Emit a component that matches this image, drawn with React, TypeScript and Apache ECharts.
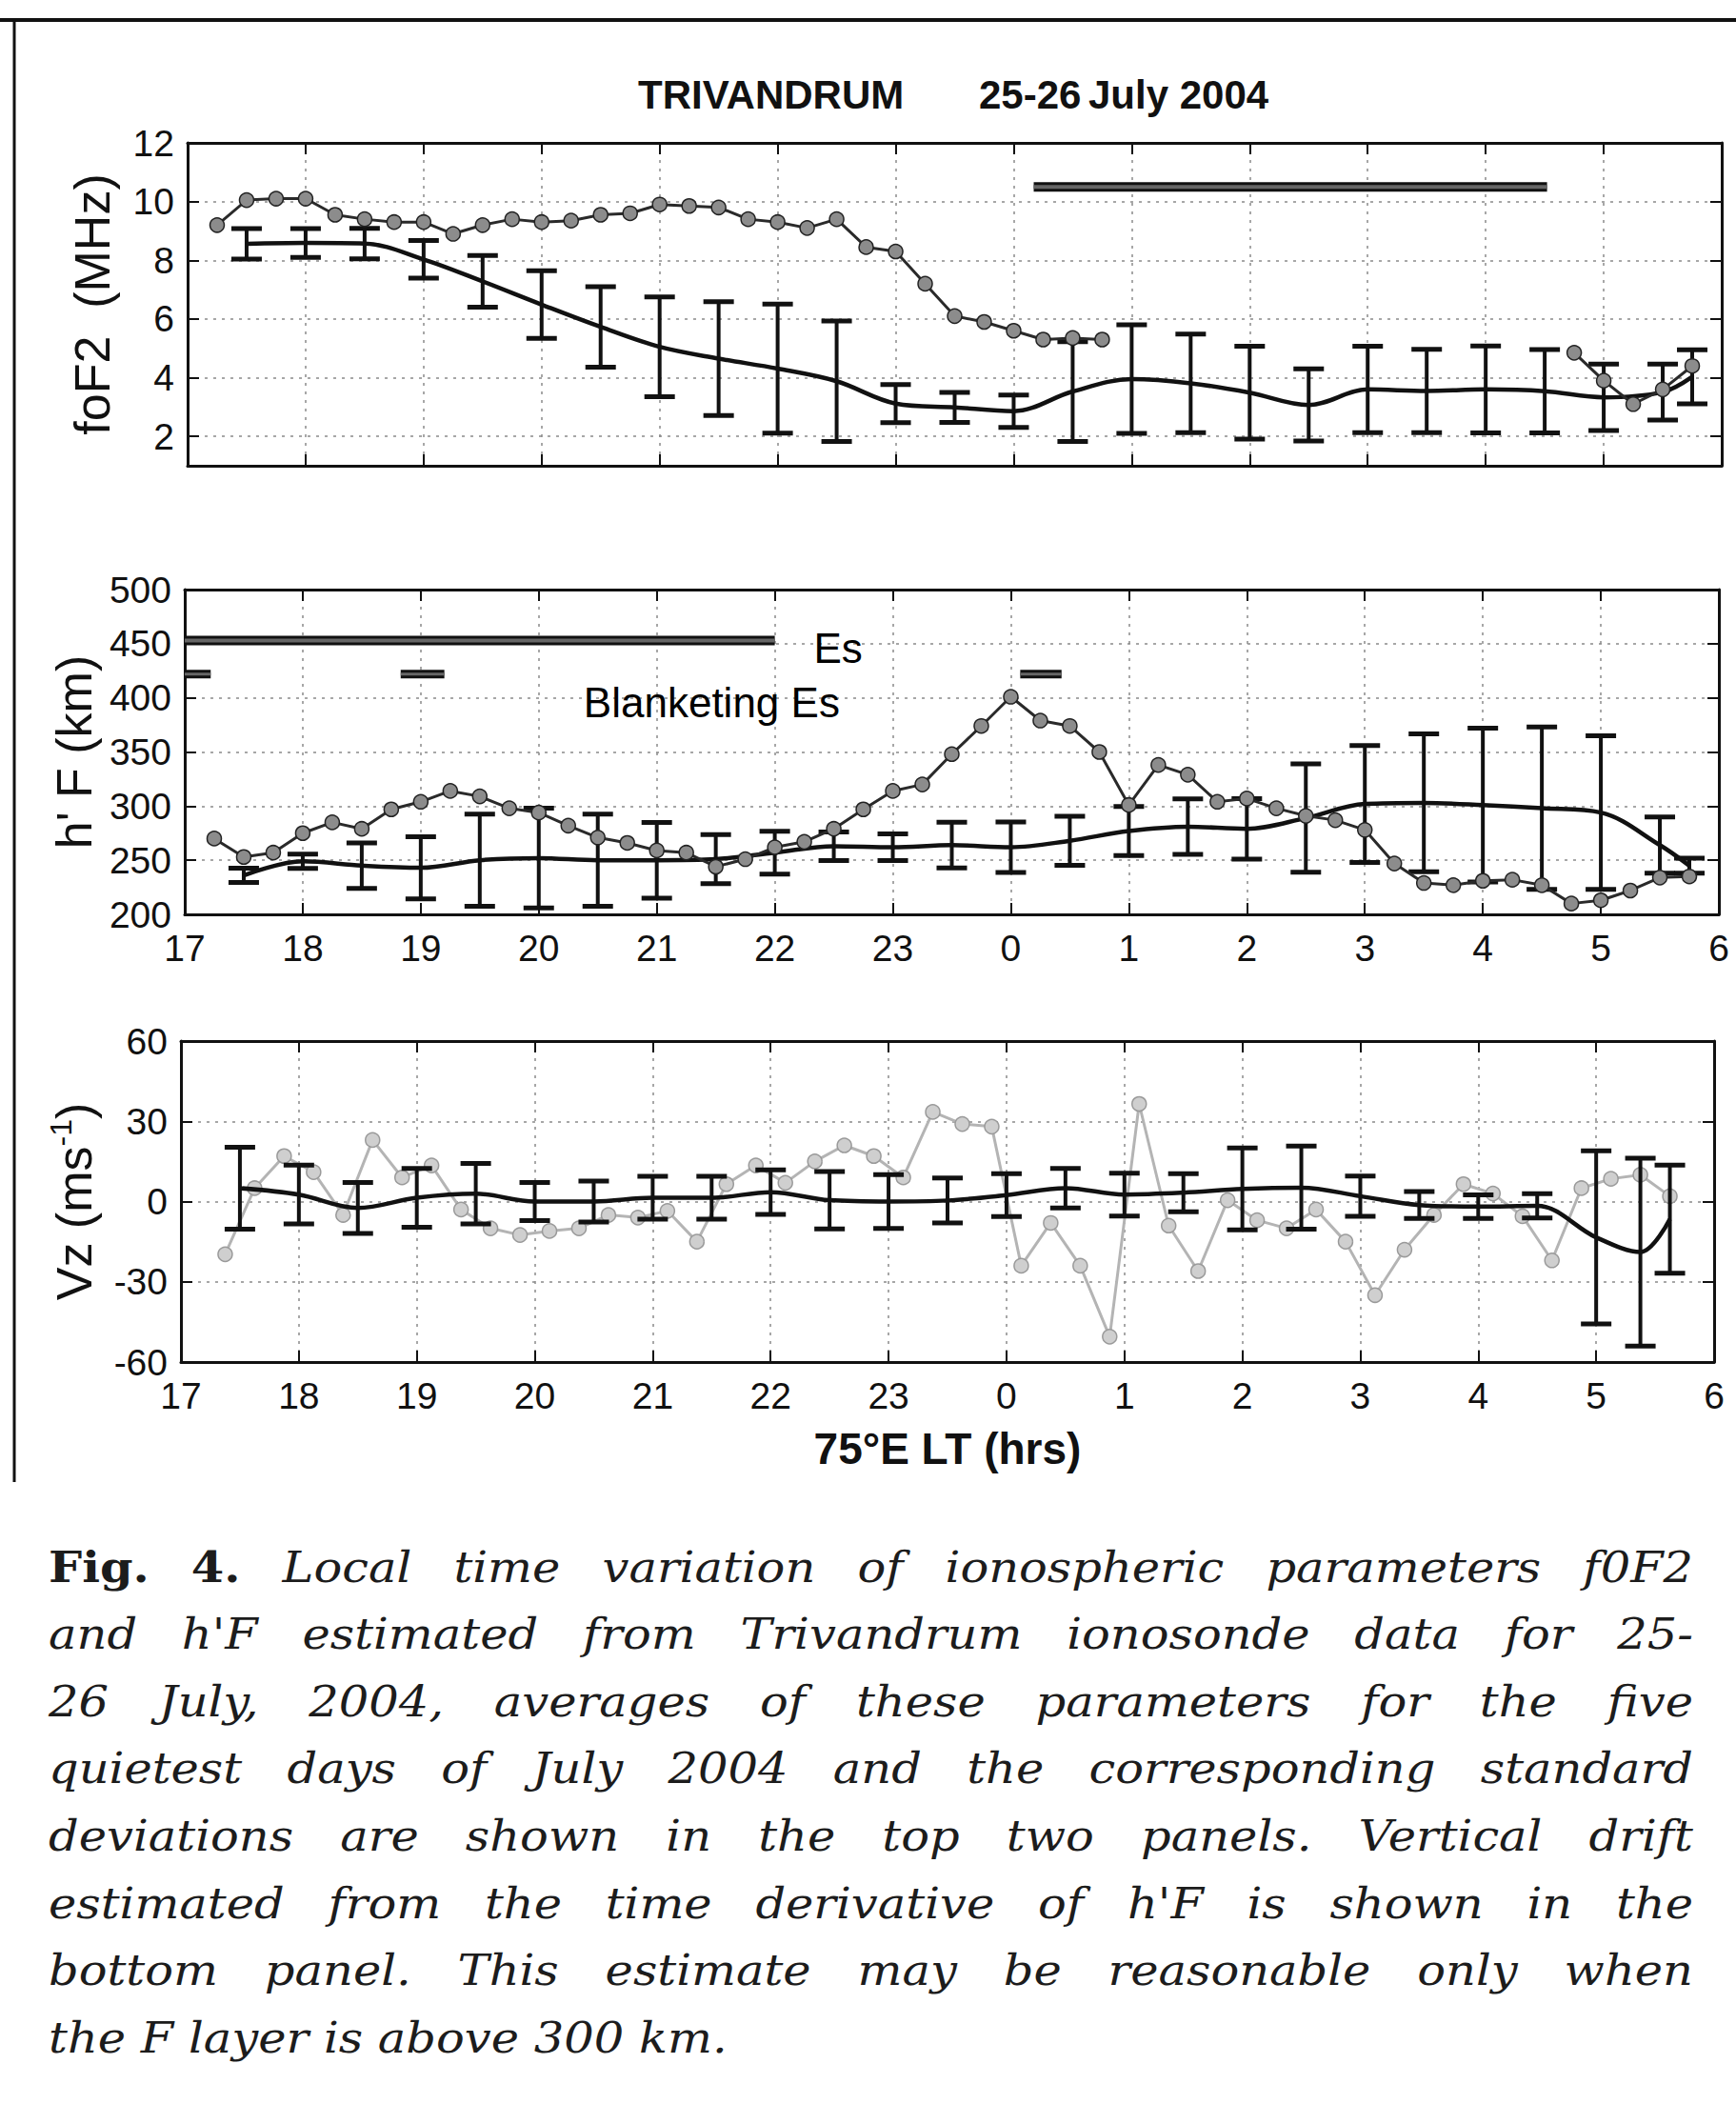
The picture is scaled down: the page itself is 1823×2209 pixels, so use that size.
import React, { useEffect, useRef } from 'react';
import * as echarts from 'echarts';

const FONT = "'Liberation Sans', Arial, Helvetica, sans-serif";
const SERIF = "'DejaVu Serif', 'Liberation Serif', serif";

// ---------- foF2 panel ----------
const foF2ObsTimesA = [17.25, 17.5, 17.75, 18, 18.25, 18.5, 18.75, 19, 19.25, 19.5, 19.75, 20, 20.25, 20.5, 20.75, 21, 21.25, 21.5, 21.75, 22, 22.25, 22.5, 22.75, 23, 23.25, 23.5, 23.75, 24, 24.25, 24.5, 24.75];
const foF2ObsA = [9.2, 10.05, 10.1, 10.1, 9.55, 9.4, 9.3, 9.3, 8.9, 9.2, 9.4, 9.3, 9.35, 9.55, 9.6, 9.9, 9.85, 9.8, 9.4, 9.3, 9.1, 9.4, 8.45, 8.3, 7.2, 6.1, 5.9, 5.6, 5.3, 5.35, 5.3];
const foF2ObsTimesB = [28.75, 29, 29.25, 29.5, 29.75];
const foF2ObsB = [4.85, 3.9, 3.1, 3.6, 4.4];
const foF2MeanTimes = [17.5, 18, 18.5, 19, 19.5, 20, 20.5, 21, 21.5, 22, 22.5, 23, 23.5, 24, 24.5, 25, 25.5, 26, 26.5, 27, 27.5, 28, 28.5, 29, 29.5, 29.75];
const foF2Mean = [8.56, 8.59, 8.57, 8.03, 7.28, 6.49, 5.73, 5.05, 4.65, 4.31, 3.88, 3.12, 2.99, 2.86, 3.53, 3.95, 3.81, 3.49, 3.07, 3.6, 3.55, 3.6, 3.54, 3.33, 3.51, 4.03];
const foF2Sd = [0.52, 0.49, 0.52, 0.64, 0.88, 1.15, 1.37, 1.7, 1.94, 2.2, 2.05, 0.65, 0.51, 0.55, 1.7, 1.85, 1.68, 1.58, 1.23, 1.47, 1.42, 1.48, 1.42, 1.13, 0.95, 0.92];
const foF2BarSpan = [24.17, 28.52];
const foF2BarLevel = 10.5;
const foF2Ticks = [2, 4, 6, 8, 10, 12];

// ---------- h'F panel ----------
const hFObsTimes = [17.25, 17.5, 17.75, 18, 18.25, 18.5, 18.75, 19, 19.25, 19.5, 19.75, 20, 20.25, 20.5, 20.75, 21, 21.25, 21.5, 21.75, 22, 22.25, 22.5, 22.75, 23, 23.25, 23.5, 23.75, 24, 24.25, 24.5, 24.75, 25, 25.25, 25.5, 25.75, 26, 26.25, 26.5, 26.75, 27, 27.25, 27.5, 27.75, 28, 28.25, 28.5, 28.75, 29, 29.25, 29.5, 29.75];
const hFObs = [270, 253, 257, 275, 285, 279, 297, 304, 314, 309, 298, 294, 282, 271, 266, 259, 257, 244, 251, 262, 267, 279, 297, 314, 320, 348, 374, 401, 379, 374, 350, 301, 338, 329, 304, 307, 298, 291, 287, 278, 247, 229, 227, 231, 232, 227, 210, 213, 222, 234, 235];
const hFMeanTimes = [17.5, 18, 18.5, 19, 19.5, 20, 20.5, 21, 21.5, 22, 22.5, 23, 23.5, 24, 24.5, 25, 25.5, 26, 26.5, 27, 27.5, 28, 28.5, 29, 29.5, 29.75];
const hFMean = [236, 249, 245, 243, 250, 252, 250, 250, 251, 257, 263, 262, 264, 262, 268, 277, 281, 279, 289, 302, 303, 301, 298, 294, 264, 245];
const hFSd = [6.6, 6.6, 21, 28.6, 42.5, 46, 42.5, 35, 22.7, 19.8, 13.2, 12.4, 21.2, 23.4, 22.7, 22.7, 25.6, 28, 50, 54, 63.7, 71, 75, 71, 26, 7];
const esSpan = [17.0, 22.0];
const esLevel = 453;
const blanketingSpans = [[17.0, 17.22], [18.83, 19.2], [24.08, 24.43]];
const blanketingLevel = 422;
const hFNotes = [
  { t: 22.33, v: 446, text: 'Es' },
  { t: 20.38, v: 396, text: 'Blanketing Es' },
];

// ---------- Vz panel ----------
const vzObsTimes = [17.375, 17.625, 17.875, 18.125, 18.375, 18.625, 18.875, 19.125, 19.375, 19.625, 19.875, 20.125, 20.375, 20.625, 20.875, 21.125, 21.375, 21.625, 21.875, 22.125, 22.375, 22.625, 22.875, 23.125, 23.375, 23.625, 23.875, 24.125, 24.375, 24.625, 24.875, 25.125, 25.375, 25.625, 25.875, 26.125, 26.375, 26.625, 26.875, 27.125, 27.375, 27.625, 27.875, 28.125, 28.375, 28.625, 28.875, 29.125, 29.375, 29.625];
const vzObs = [-19.7, 5, 17, 11, -5, 23, 9, 13.5, -3, -10, -12.5, -11, -10, -5, -6, -3.5, -15, 6.5, 13.5, 7, 15, 21, 17, 9, 33.5, 29, 28, -24, -8, -24, -50.5, 36.5, -9, -26, 0.5, -7, -10, -3, -15, -35, -18, -5, 6.5, 3, -5.5, -22, 5, 8.5, 10, 2];
const vzMeanTimes = [17.5, 18, 18.5, 19, 19.5, 20, 20.5, 21, 21.5, 22, 22.5, 23, 23.5, 24, 24.5, 25, 25.5, 26, 26.5, 27, 27.5, 28, 28.5, 29, 29.375, 29.625];
const vzMean = [5, 2.6, -2.4, 1.4, 2.9, 0, 0, 1.4, 1.4, 3.5, 0.5, 0, 0.4, 2.4, 5, 2.6, 3.3, 4.7, 5.2, 2, -1.3, -1.9, -1.6, -13.4, -18.9, -6.6];
const vzSd = [15.3, 11, 9.5, 11, 11.3, 7.1, 7.7, 8, 8, 8.3, 10.7, 10.1, 8.4, 8, 7.4, 8, 7.1, 15.3, 15.5, 7.5, 5, 4.4, 4.5, 32.4, 35.1, 20.2];

// ---------- texts ----------
const titleParts = ['TRIVANDRUM', '25-26', 'July 2004'];
const xAxisName = '75°E LT (hrs)';
const captionBoldWords = 2;
const captionLines = [
  'Fig. 4. Local time variation of ionospheric parameters f0F2',
  "and h'F estimated from Trivandrum ionosonde data for 25-",
  '26 July, 2004, averages of these parameters for the five',
  'quietest days of July 2004 and the corresponding standard',
  'deviations are shown in the top two panels. Vertical drift',
  "estimated from the time derivative of h'F is shown in the",
  'bottom panel. This estimate may be reasonable only when',
  'the F layer is above 300 km.',
];

const hourLabel = (v: number) => String(Math.round(v >= 24 ? v - 24 : v));
const pairs = (xs: number[], ys: number[]) => xs.map((x, i) => [x, ys[i]]);

const GRIDS = [
  { left: 197, top: 150, width: 1611, height: 339 },
  { left: 194, top: 619, width: 1611, height: 341 },
  { left: 190, top: 1093, width: 1610, height: 337 },
];

const AXIS_LINE = { show: true, onZero: false, lineStyle: { color: '#111', width: 3 } };
const TICK = { show: true, inside: true, length: 12, lineStyle: { color: '#111', width: 2 } };
const SPLIT = { show: true, lineStyle: { color: '#8a8a8a', type: [3, 6], width: 1.5 } };
const LABEL = { fontSize: 39, color: '#111', fontFamily: FONT };

function xAxes(gridIndex: number, showLabels: boolean, name?: string) {
  return [
    {
      type: 'value', gridIndex, min: 17, max: 30, interval: 1, position: 'bottom',
      axisLine: AXIS_LINE, axisTick: TICK, splitLine: SPLIT,
      axisLabel: { ...LABEL, show: showLabels, formatter: hourLabel, margin: 16 },
      name: name || '', nameLocation: 'middle', nameGap: 68,
      nameTextStyle: { fontSize: 46, fontWeight: 'bold', color: '#111', fontFamily: FONT },
    },
    {
      type: 'value', gridIndex, min: 17, max: 30, interval: 1, position: 'top',
      axisLine: AXIS_LINE, axisTick: TICK, splitLine: { show: false }, axisLabel: { show: false },
    },
  ];
}

function yAxes(gridIndex: number, base: any, name: string, nameGap: number, nameStyle: any) {
  const custom = base.customTicks ? { customValues: base.customTicks } : {};
  const { customTicks, ...range } = base;
  return [
    {
      type: 'value', gridIndex, position: 'left', ...range,
      axisLine: AXIS_LINE, axisTick: { ...TICK, ...custom },
      splitLine: SPLIT,
      axisLabel: { ...LABEL, margin: 14, ...custom },
      name, nameLocation: 'middle', nameRotate: 90, nameGap, nameTextStyle: nameStyle,
    },
    {
      type: 'value', gridIndex, position: 'right', ...range,
      axisLine: AXIS_LINE, axisTick: { ...TICK, ...custom },
      splitLine: { show: false }, axisLabel: { show: false },
    },
  ];
}

function errorBars(ai: number, times: number[], mean: number[], sd: number[], z: number) {
  return {
    type: 'custom', xAxisIndex: ai, yAxisIndex: ai, z, silent: true,
    data: times.map((t, i) => [t, mean[i] - sd[i], mean[i] + sd[i]]),
    encode: { x: 0, y: [1, 2] },
    renderItem: (_p: any, api: any) => {
      const t = api.value(0);
      const lo = api.coord([t, api.value(1)]);
      const hi = api.coord([t, api.value(2)]);
      const hw = 16;
      return {
        type: 'group',
        children: [
          { type: 'line', shape: { x1: lo[0], y1: lo[1], x2: hi[0], y2: hi[1] }, style: { stroke: '#111', lineWidth: 4 } },
          { type: 'line', shape: { x1: lo[0] - hw, y1: lo[1], x2: lo[0] + hw, y2: lo[1] }, style: { stroke: '#111', lineWidth: 5 } },
          { type: 'line', shape: { x1: hi[0] - hw, y1: hi[1], x2: hi[0] + hw, y2: hi[1] }, style: { stroke: '#111', lineWidth: 5 } },
        ],
      };
    },
  };
}

function meanLine(ai: number, times: number[], mean: number[], z: number) {
  return {
    type: 'line', xAxisIndex: ai, yAxisIndex: ai, z, silent: true,
    data: pairs(times, mean), smooth: 0.35, symbol: 'none',
    lineStyle: { color: '#111', width: 4.5 },
  };
}

function obsLine(ai: number, times: number[], vals: number[], z: number, light: boolean) {
  return {
    type: 'line', xAxisIndex: ai, yAxisIndex: ai, z, silent: true,
    data: pairs(times, vals), symbol: 'circle', symbolSize: 15,
    lineStyle: { color: light ? '#b4b4b4' : '#2a2a2a', width: 3 },
    itemStyle: light
      ? { color: '#cfcfcf', borderColor: '#9a9a9a', borderWidth: 1.5 }
      : { color: '#8c8c8c', borderColor: '#222', borderWidth: 1.5 },
  };
}

function hBar(ai: number, span: number[], level: number, w: number) {
  return [
    {
      type: 'line', xAxisIndex: ai, yAxisIndex: ai, z: 5, silent: true, symbol: 'none',
      data: [[span[0], level], [span[1], level]], lineStyle: { color: '#111', width: w, cap: 'butt' },
    },
    {
      type: 'line', xAxisIndex: ai, yAxisIndex: ai, z: 6, silent: true, symbol: 'none',
      data: [[span[0], level], [span[1], level]], lineStyle: { color: '#666', width: Math.max(2, w - 6), cap: 'butt' },
    },
  ];
}

function buildCaption(): any[] {
  const canvas = document.createElement('canvas');
  const ctx = canvas.getContext('2d') as CanvasRenderingContext2D;
  const left = 51;
  const right = 1778;
  const top = 1645;
  const step = 70.6;
  const width = right - left;
  const fs = 45;
  const measure = (text: string, bold: boolean) => {
    ctx.font = `${bold ? 'normal' : 'italic'} ${bold ? 'bold' : 'normal'} ${fs}px ${SERIF}`;
    return ctx.measureText(text).width;
  };
  const lines = captionLines.map((line, i) =>
    line.split(' ').filter((w) => w.length).map((w, j) => ({ text: w, bold: i === 0 && j < captionBoldWords }))
  );
  const sp = measure(' ', false);
  let maxNat = 0;
  lines.slice(0, -1).forEach((ws) => {
    const w = ws.reduce((s, t) => s + measure(t.text, t.bold), 0) + sp * (ws.length - 1);
    maxNat = Math.max(maxNat, w);
  });
  const sx = Math.min(1.1, (width * 0.985) / maxNat);
  const elems: any[] = [];
  lines.forEach((ws, i) => {
    const y = top + i * step;
    const widths = ws.map((t) => measure(t.text, t.bold) * sx);
    const total = widths.reduce((a, b) => a + b, 0);
    const last = i === lines.length - 1;
    const gap = last ? sp * sx : (width - total) / (ws.length - 1);
    let x = left;
    ws.forEach((t, j) => {
      elems.push({
        type: 'text', x, y, scaleX: sx, silent: true,
        style: {
          text: t.text, fontSize: fs, fontFamily: SERIF,
          fontStyle: t.bold ? 'normal' : 'italic', fontWeight: t.bold ? 'bold' : 'normal',
          fill: '#1c1c1c', align: 'left', verticalAlign: 'middle', textAlign: 'left', textVerticalAlign: 'middle',
        },
      });
      x += widths[j] + gap;
    });
  });
  return elems;
}

export default function App() {
  const ref = useRef<HTMLDivElement>(null);
  useEffect(() => {
    document.body.style.margin = '0';
    document.body.style.overflow = 'hidden';
    if (!ref.current) return;
    const chart = echarts.init(ref.current, undefined, { renderer: 'svg' });

    const nameStyle = { fontSize: 52, color: '#111', fontFamily: FONT };
    const vzNameStyle = {
      fontSize: 52, color: '#111', fontFamily: FONT, lineHeight: 60,
      rich: {
        a: { fontSize: 52, fontFamily: FONT, color: '#111', lineHeight: 60 },
        b: { fontSize: 32, fontFamily: FONT, color: '#111', lineHeight: 60, verticalAlign: 'top' },
      },
    };

    const textStyle = { fontFamily: FONT, fill: '#111', align: 'left', verticalAlign: 'middle', textAlign: 'left', textVerticalAlign: 'middle' };
    const titleStyle = { ...textStyle, fontSize: 42, fontWeight: 'bold' };

    const baseGraphic: any[] = [
      { type: 'line', silent: true, shape: { x1: 0, y1: 21, x2: 1823, y2: 21 }, style: { stroke: '#111', lineWidth: 4 } },
      { type: 'line', silent: true, shape: { x1: 15, y1: 21, x2: 15, y2: 1556 }, style: { stroke: '#111', lineWidth: 3 } },
      { type: 'text', silent: true, x: 670, y: 99, style: { ...titleStyle, text: titleParts[0] } },
      { type: 'text', silent: true, x: 1028, y: 99, style: { ...titleStyle, text: titleParts[1] } },
      { type: 'text', silent: true, x: 1143, y: 99, style: { ...titleStyle, text: titleParts[2] } },
      ...buildCaption(),
    ];

    const option: any = {
      animation: false,
      backgroundColor: '#ffffff',
      textStyle: { fontFamily: FONT },
      grid: GRIDS.map((g) => ({ ...g, containLabel: false, outerBoundsMode: 'none' })),
      xAxis: [...xAxes(0, false), ...xAxes(1, true), ...xAxes(2, true, xAxisName)],
      yAxis: [
        ...yAxes(0, { min: 1, max: 12, customTicks: foF2Ticks }, 'foF2\u00A0\u00A0(MHz)', 74, nameStyle),
        ...yAxes(1, { min: 200, max: 500, interval: 50 }, "h'\u00A0F\u00A0(km)", 88, nameStyle),
        ...yAxes(2, { min: -60, max: 60, interval: 30 }, '{a|Vz\u00A0(ms}{b|-1}{a|)}', 82, vzNameStyle),
      ],
      series: [
        // foF2
        errorBars(0, foF2MeanTimes, foF2Mean, foF2Sd, 2),
        meanLine(0, foF2MeanTimes, foF2Mean, 3),
        obsLine(0, foF2ObsTimesA, foF2ObsA, 4, false),
        obsLine(0, foF2ObsTimesB, foF2ObsB, 4, false),
        ...hBar(0, foF2BarSpan, foF2BarLevel, 10),
        // h'F
        errorBars(2, hFMeanTimes, hFMean, hFSd, 2),
        meanLine(2, hFMeanTimes, hFMean, 3),
        obsLine(2, hFObsTimes, hFObs, 4, false),
        ...hBar(2, esSpan, esLevel, 10),
        ...blanketingSpans.flatMap((s) => hBar(2, s, blanketingLevel, 9)),
        // Vz
        obsLine(4, vzObsTimes, vzObs, 1, true),
        errorBars(4, vzMeanTimes, vzMean, vzSd, 2),
        meanLine(4, vzMeanTimes, vzMean, 3),
      ],
      graphic: baseGraphic,
    };
    chart.setOption(option);

    // annotations placed through the h'F panel's own scales
    const notes = hFNotes.map((n) => {
      const p = chart.convertToPixel({ xAxisIndex: 2, yAxisIndex: 2 } as any, [n.t, n.v]) as number[];
      return { type: 'text', silent: true, x: p[0], y: p[1], z: 10, style: { ...textStyle, fontSize: 44, fill: '#000', text: n.text } };
    });
    chart.setOption({ graphic: [...baseGraphic, ...notes] }, { replaceMerge: ['graphic'] } as any);

    return () => chart.dispose();
  }, []);
  return <div ref={ref} style={{ width: 1823, height: 2209 }} />;
}
